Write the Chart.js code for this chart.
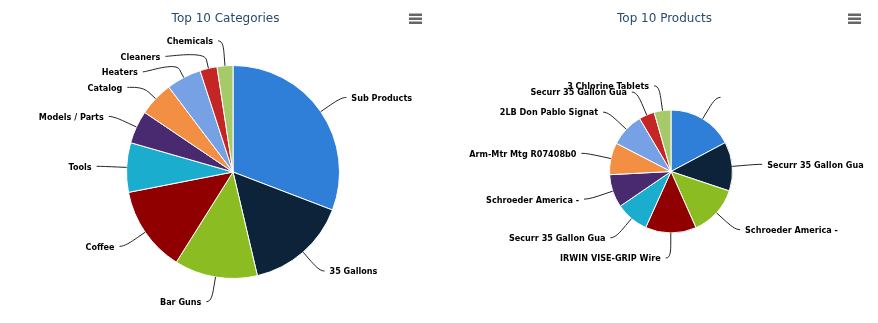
<!DOCTYPE html>
<html>
<head>
<meta charset="utf-8">
<script src="https://cdn.jsdelivr.net/npm/chart.js@4"></script>
<style>
  html, body { margin: 0; padding: 0; background: #fff; }
  #wrap { position: relative; width: 878px; height: 323px; }
  .box { position: absolute; top: 0; width: 439px; height: 323px; }
</style>
</head>
<body>
<div id="wrap">
  <div class="box" style="left:0"><canvas id="catChart" width="439" height="323"></canvas></div>
  <div class="box" style="left:439px"><canvas id="prodChart" width="439" height="323"></canvas></div>
</div>
<script>
// highcharts-ish default colours
const palette = ["#2f7ed8", "#0d233a", "#8bbc21", "#910000", "#1aadce",
                 "#492970", "#f28f43", "#77a1e5", "#c42525", "#a6c96a"];

const catLabels = ["Sub Products", "35 Gallons", "Bar Guns", "Coffee", "Tools",
                   "Models / Parts", "Catalog", "Heaters", "Cleaners", "Chemicals"];
const catValues = [30.8, 15.5, 12.6, 13.0, 7.5, 5.0, 5.25, 5.3, 2.6, 2.4];

const prodLabels = ["", "Securr 35 Gallon Gua", "Schroeder America -", "IRWIN VISE-GRIP Wire",
                    "Securr 35 Gallon Gua", "Schroeder America -", "Arm-Mtr Mtg R07408b0",
                    "2LB Don Pablo Signat", "Securr 35 Gallon Gua", "3 Chlorine Tablets"];
const prodValues = [17.2, 12.9, 13.2, 13.4, 8.7, 8.7, 8.4, 8.9, 4.1, 4.4];

// outside labels with soft connectors
const pieLabels = {
    id: "pieLabels",
    afterDatasetsDraw(chart, args, opts) {
        const ctx = chart.ctx;
        const meta = chart.getDatasetMeta(0);
        const dist = opts.distance;
        const items = [];
        meta.data.forEach((arc, i) => {
            const p = arc.getProps(["x", "y", "startAngle", "endAngle", "outerRadius"], true);
            const a = (p.startAngle + p.endAngle) / 2;
            const cos = Math.cos(a), sin = Math.sin(a);
            const r = p.outerRadius;
            items.push({
                text: chart.data.labels[i],
                cx: p.x, cy: p.y, r: r,
                left: cos < 0,
                y: p.y + (r + dist) * sin,
                p2: [p.x + (r + opts.offset) * cos, p.y + (r + opts.offset) * sin],
                p3: [p.x + r * cos, p.y + r * sin]
            });
        });
        // push crowded labels down
        [true, false].forEach(side => {
            const list = items.filter(it => it.left === side).sort((a, b) => a.y - b.y);
            for (let k = 1; k < list.length; k++) {
                if (list[k].y < list[k - 1].y + opts.gap) list[k].y = list[k - 1].y + opts.gap;
            }
        });
        ctx.save();
        ctx.font = opts.font;
        ctx.fillStyle = opts.color;
        ctx.strokeStyle = opts.lineColor;
        ctx.lineWidth = 1;
        ctx.textBaseline = "middle";
        items.forEach(it => {
            const R = it.r + dist;
            const dy = Math.max(-R, Math.min(R, it.y - it.cy));
            const s = it.left ? -1 : 1;
            const x = it.cx + s * Math.sqrt(R * R - dy * dy);
            ctx.beginPath();
            ctx.moveTo(x + s * 5, it.y);
            ctx.bezierCurveTo(x, it.y, 2 * it.p2[0] - it.p3[0], 2 * it.p2[1] - it.p3[1], it.p2[0], it.p2[1]);
            ctx.lineTo(it.p3[0], it.p3[1]);
            ctx.stroke();
            ctx.textAlign = it.left ? "right" : "left";
            ctx.fillText(it.text, x + s * 10, it.y + 1);
        });
        ctx.restore();
    }
};

// title and the little menu button
const header = {
    id: "header",
    afterDraw(chart, args, opts) {
        const ctx = chart.ctx;
        ctx.save();
        ctx.font = "12px 'DejaVu Sans'";
        ctx.fillStyle = "#274b6d";
        ctx.textAlign = "center";
        ctx.textBaseline = "alphabetic";
        ctx.fillText(opts.text, opts.x, 22);
        ctx.strokeStyle = "#666666";
        ctx.lineWidth = 2.5;
        ctx.beginPath();
        [14.7, 18.7, 22.7].forEach(y => {
            ctx.moveTo(409, y);
            ctx.lineTo(422, y);
        });
        ctx.stroke();
        ctx.restore();
    }
};

function makePie(id, title, labels, values, radius, padding, gap) {
    return new Chart(document.getElementById(id).getContext("2d"), {
        type: "pie",
        data: {
            labels: labels,
            datasets: [{
                data: values,
                backgroundColor: palette,
                borderColor: "#ffffff",
                borderWidth: 1
            }]
        },
        options: {
            responsive: false,
            animation: false,
            radius: radius,
            layout: { padding: padding },
            plugins: {
                legend: { display: false },
                tooltip: { enabled: false },
                header: { text: title, x: 225.5 },
                pieLabels: {
                    distance: 25,
                    offset: 9,
                    gap: gap,
                    font: "bold 9px 'DejaVu Sans Condensed', 'DejaVu Sans'",
                    color: "#000000",
                    lineColor: "#222222"
                }
            }
        },
        plugins: [pieLabels, header]
    });
}

makePie("catChart", "Top 10 Categories", catLabels, catValues, 106.5,
    { left: 123, right: 96, top: 62, bottom: 41 }, 15.5);
makePie("prodChart", "Top 10 Products", prodLabels, prodValues, 61.5,
    { left: 162, right: 137, top: 101.5, bottom: 81.5 }, 0);
</script>
</body>
</html>
